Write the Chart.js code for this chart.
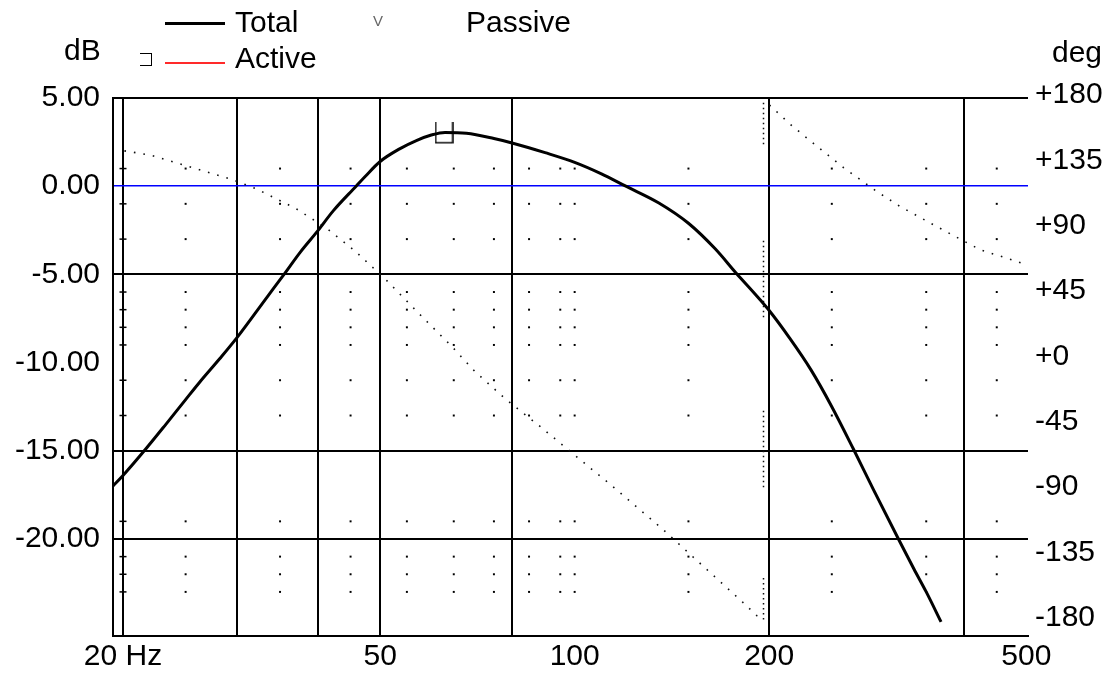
<!DOCTYPE html>
<html>
<head>
<meta charset="utf-8">
<script src="https://cdn.jsdelivr.net/npm/chart.js@4"></script>
<style>
  body { margin: 0; background: #fff; }
  #wrap { position: relative; width: 1117px; height: 680px; font-family: "Liberation Sans", Arial, sans-serif; }
  .lbl { position: absolute; font-size: 30px; line-height: 30px; color: #000; white-space: nowrap; }
  .key { position: absolute; }
</style>
</head>
<body>
<div id="wrap">
  <canvas id="fr" width="1117" height="680"></canvas>
  <div class="lbl" style="left:64px;top:35px">dB</div>
  <div class="lbl" style="left:1052px;top:37px">deg</div>
  <div class="key" style="left:165px;top:22px;width:60px;height:3px;background:#000"></div>
  <div class="lbl" style="left:235px;top:7px">Total</div>
  <div class="lbl" style="left:373px;top:6px;font-size:15px;color:#666">V</div>
  <div class="lbl" style="left:466px;top:7px">Passive</div>
  <div class="key" style="left:140px;top:53px;width:11px;height:11px;border:1.5px solid #000;border-left:none"></div>
  <div class="key" style="left:165px;top:62px;width:60px;height:2px;background:#ff2a2a"></div>
  <div class="lbl" style="left:235px;top:43px">Active</div>
</div>
<script>
// magnitude of the total response (Hz, dB)
const totalFreq = [19.3, 20, 21.8, 23.3, 25, 26.3, 28.2, 30, 33.4, 35.5, 37.6, 40, 42.3, 45.9, 47.4, 50, 53.5, 57, 60, 63,
  68, 75, 80, 90, 100, 110, 120, 135, 150, 165, 178, 190, 200, 215, 232, 250, 270, 290, 317, 335, 350, 369];
const totalDb = [-17.0, -16.4, -14.8, -13.5, -12.1, -11.1, -9.8, -8.6, -6.3, -5.0, -3.75, -2.55, -1.4, 0.0, 0.55, 1.4, 2.1, 2.6, 2.9, 3.05,
  3.0, 2.7, 2.45, 1.9, 1.35, 0.7, 0.0, -0.95, -2.1, -3.55, -4.95, -6.1, -7.05, -8.6, -10.4, -12.5, -14.9, -17.2, -20.0, -21.7, -23.0, -24.7];

// phase (deg), wraps from -180 to +180 just below 200 Hz
const phaseFreq = [20.1, 22, 24.9, 29.4, 32.2, 37.1, 41.3, 45.7, 51.2, 58.7, 64.2, 70.1, 77.9, 88.4, 116.2, 137.2, 158.2, 181.5, 191.4, 196,
  196, 200.2, 215.6, 235.7, 260.6, 293.6, 319, 359.2, 395.2, 424.4, 466.7, 501];
const phaseDeg = [141.5, 138.7, 131.6, 122.0, 115.3, 101.6, 88.3, 72.7, 52.2, 25.2, 8.0, -10.4, -28.7, -48.2, -91.8, -119.3, -144.5, -168.6, -178.4, -181,
  null, 173.1, 159.8, 145.6, 130.0, 113.5, 103.2, 90.6, 80.7, 73.4, 67.6, 63.0];
const wrapFreq = 196;
const wrapDeg = [-181, -152, null, -90, -35, null, 27, 82, null, 146, 175];

// peak marker
const peakFreq = 62.8;
const peakDb = 3.0;

// axis ticks
const xLabelTicks = [20, 50, 100, 200, 500];
const xGridTicks = [20, 30, 40, 50, 80, 200, 400];
const dbTicks = [5, 0, -5, -10, -15, -20];
const degTicks = [180, 135, 90, 45, 0, -45, -90, -135, -180];

// dotted minor grid
const dotFreqs = [25, 35, 45, 55, 65, 75, 85, 95, 100, 150, 250, 350, 450];
const dotRows = [1, -1, -3, -6, -7, -8, -9, -11, -13, -19, -21, -22, -23];

const font = { family: '"Liberation Sans", Arial, sans-serif', size: 30 };

const dots = [];
dotFreqs.forEach(f => dotRows.forEach(r => dots.push({ x: f, y: r })));
const dashes = dotRows.map(r => ({ x: 20, y: r }));

// open-top box drawn at the peak
const marker = document.createElement('canvas');
marker.width = 19;
marker.height = 22;
const mc = marker.getContext('2d');
mc.strokeStyle = '#000';
mc.lineWidth = 1.5;
mc.beginPath();
mc.moveTo(1, 0);
mc.lineTo(1, 20.5);
mc.lineTo(18, 20.5);
mc.lineTo(18, 0);
mc.stroke();

const xTicks = Array.from(new Set(xGridTicks.concat(xLabelTicks))).sort((a, b) => a - b);

new Chart(document.getElementById('fr').getContext('2d'), {
  type: 'line',
  data: {
    datasets: [
      {
        label: 'Total',
        data: totalFreq.map((f, i) => ({ x: f, y: totalDb[i] })),
        yAxisID: 'y',
        borderColor: '#000',
        borderWidth: 3,
        pointRadius: 0,
        cubicInterpolationMode: 'monotone',
        order: 1
      },
      {
        label: 'Passive',
        data: phaseFreq.map((f, i) => ({ x: f, y: phaseDeg[i] })),
        yAxisID: 'yPhase',
        borderColor: '#111',
        borderWidth: 1.6,
        borderDash: [1.6, 8],
        pointRadius: 0,
        spanGaps: false,
        tension: 0,
        order: 2
      },
      {
        label: 'Passive wrap',
        data: wrapDeg.map(d => ({ x: wrapFreq, y: d })),
        yAxisID: 'yPhase',
        borderColor: '#111',
        borderWidth: 1.5,
        borderDash: [1.5, 3.5],
        pointRadius: 0,
        spanGaps: false,
        order: 2
      },
      {
        label: 'Active',
        data: [],
        yAxisID: 'y',
        borderColor: '#ff2a2a',
        borderWidth: 1.5,
        pointRadius: 0
      },
      {
        label: 'peak',
        data: [{ x: peakFreq, y: peakDb }],
        yAxisID: 'y',
        showLine: false,
        pointStyle: marker,
        pointRadius: 10,
        order: 0
      },
      {
        label: 'minor grid',
        data: dots,
        yAxisID: 'y',
        showLine: false,
        pointStyle: 'rect',
        pointRadius: 1.4,
        pointBorderWidth: 0,
        backgroundColor: '#000',
        borderColor: '#000',
        order: 10
      },
      {
        label: 'minor grid 20',
        data: dashes,
        yAxisID: 'y',
        showLine: false,
        pointStyle: 'line',
        pointRadius: 3.5,
        pointBorderWidth: 1.5,
        borderColor: '#000',
        order: 10
      }
    ]
  },
  options: {
    responsive: false,
    animation: false,
    events: [],
    layout: { padding: { top: 98, left: 0, right: 0, bottom: 0 } },
    plugins: { legend: { display: false }, tooltip: { enabled: false } },
    scales: {
      x: {
        type: 'logarithmic',
        min: 19.3,
        max: 503,
        afterBuildTicks: s => { s.ticks = xTicks.map(v => ({ value: v })); },
        afterFit: s => { s.height = 44; },
        ticks: {
          autoSkip: false,
          maxRotation: 0,
          padding: 3,
          color: '#000',
          font: font,
          callback: v => xLabelTicks.includes(v) ? (v === 20 ? '20 Hz' : String(v)) : ''
        },
        grid: {
          drawTicks: false,
          lineWidth: 2,
          color: c => (c.tick && xGridTicks.includes(c.tick.value)) ? '#000' : 'rgba(0,0,0,0)'
        },
        border: { display: true, color: '#000', width: 2 }
      },
      y: {
        position: 'left',
        min: -25.5,
        max: 5,
        afterBuildTicks: s => { s.ticks = dbTicks.map(v => ({ value: v })); },
        afterFit: s => { s.width = 113; },
        ticks: {
          padding: 13,
          color: '#000',
          font: font,
          callback: v => v.toFixed(2)
        },
        grid: {
          drawTicks: false,
          lineWidth: c => (c.tick && c.tick.value === 0) ? 1.5 : 2,
          color: c => {
            if (!c.tick) return '#000';
            if (c.tick.value === 0) return '#0000ff';
            if (c.tick.value === -10) return 'rgba(0,0,0,0)';
            return '#000';
          }
        },
        border: { display: true, color: '#000', width: 2 }
      },
      yPhase: {
        position: 'right',
        min: -192.4,
        max: 177.9,
        afterBuildTicks: s => { s.ticks = degTicks.map(v => ({ value: v })); },
        afterFit: s => { s.width = 89; },
        ticks: {
          padding: 7,
          color: '#000',
          font: font,
          callback: v => (v >= 0 ? '+' : '') + v
        },
        grid: { display: false, drawTicks: false },
        border: { display: false }
      }
    }
  }
});
</script>
</body>
</html>
